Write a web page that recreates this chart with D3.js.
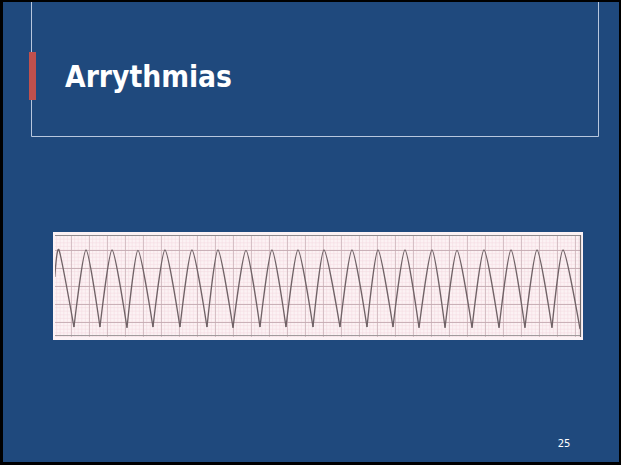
<!DOCTYPE html>
<html>
<head>
<meta charset="utf-8">
<script src="https://cdn.jsdelivr.net/npm/d3@7"></script>
<style>
  html, body { margin: 0; padding: 0; background: #000; }
  svg { display: block; }
</style>
</head>
<body>
<svg id="slide" width="621" height="465"></svg>
<script>
// slide texts
const titleText = "Arrythmias";
const pageNumber = "25";

// ECG strip, time in seconds (25 mm/s paper), amplitude in mV
const startPoint = [0.02, 0.25];
const peakTimes = [0.067, 0.367, 0.656, 0.944, 1.244, 1.544, 1.833, 2.144, 2.433, 2.722,
                   3.011, 3.322, 3.611, 3.911, 4.211, 4.489, 4.789, 5.089, 5.378, 5.667];
const peakMv = [1.0, 1.0, 1.0, 0.99, 1.0, 1.0, 1.0, 0.99, 1.0, 1.0,
                1.0, 1.0, 1.0, 1.0, 1.0, 0.99, 1.0, 1.0, 1.0, 1.0];
const troughTimes = [0.233, 0.522, 0.822, 1.111, 1.411, 1.711, 2.0, 2.3, 2.589, 2.889,
                     3.189, 3.489, 3.778, 4.067, 4.356, 4.656, 4.956, 5.244, 5.544, 5.856];
const troughMv = [-1.14, -1.14, -1.16, -1.14, -1.14, -1.14, -1.16, -1.14, -1.14, -1.14,
                  -1.14, -1.14, -1.14, -1.16, -1.16, -1.16, -1.16, -1.16, -1.16, -1.2];

const svg = d3.select("#slide");

// slide background with thin black frame
svg.append("rect").attr("x", 3).attr("y", 2).attr("width", 616).attr("height", 460)
  .attr("fill", "#1f497d");

// title frame lines
svg.append("path").attr("d", "M31.5,2 V136.5 H598.5 V2")
  .attr("stroke", "#b7c7de").attr("stroke-width", 1).attr("fill", "none");

// red accent bar
svg.append("rect").attr("x", 29).attr("y", 52).attr("width", 7).attr("height", 48)
  .attr("fill", "#c0504d");

svg.append("text")
  .attr("x", 65).attr("y", 87)
  .attr("font-family", "'DejaVu Sans', Verdana, sans-serif")
  .attr("font-weight", "bold")
  .attr("font-size", 30)
  .attr("textLength", 167)
  .attr("lengthAdjust", "spacingAndGlyphs")
  .attr("fill", "#ffffff")
  .text(titleText);

svg.append("text")
  .attr("x", 564).attr("y", 447)
  .attr("text-anchor", "middle")
  .attr("font-family", "'DejaVu Sans', Verdana, sans-serif")
  .attr("font-size", 10)
  .attr("fill", "#ffffff")
  .text(pageNumber);

// ECG strip
const x0 = 53, x1 = 583, y0 = 232, y1 = 340;
const x = d3.scaleLinear().domain([0, (x1 - x0) / 90]).range([x0, x1]);
const y = d3.scaleLinear().domain([-1.5, 1.5]).range([y1, y0]);

svg.append("rect").attr("x", x0).attr("y", y0).attr("width", x1 - x0).attr("height", y1 - y0)
  .attr("fill", "#fcf2f4");

svg.append("clipPath").attr("id", "stripClip")
  .append("rect").attr("x", x0 + 2).attr("y", y0 + 3).attr("width", x1 - x0 - 4).attr("height", y1 - y0 - 6);
const strip = svg.append("g").attr("clip-path", "url(#stripClip)");

const minorX = d3.range(0, x.domain()[1], 0.04);
const majorX = d3.range(0, x.domain()[1], 0.2);
const minorY = d3.range(-1.5, 1.51, 0.1);
const majorY = d3.range(-1.5, 1.51, 0.5);

strip.selectAll(".vminor").data(minorX).join("line")
  .attr("x1", d => x(d)).attr("x2", d => x(d)).attr("y1", y0).attr("y2", y1)
  .attr("stroke", "#f3d9df").attr("stroke-width", 0.5);
strip.selectAll(".hminor").data(minorY).join("line")
  .attr("y1", d => y(d)).attr("y2", d => y(d)).attr("x1", x0).attr("x2", x1)
  .attr("stroke", "#f3d9df").attr("stroke-width", 0.5);
strip.selectAll(".vmajor").data(majorX).join("line")
  .attr("x1", d => x(d) + 0.5).attr("x2", d => x(d) + 0.5).attr("y1", y0).attr("y2", y1)
  .attr("stroke", "#cdb5bb").attr("stroke-width", 0.8);
strip.selectAll(".hmajor").data(majorY).join("line")
  .attr("y1", d => y(d) + 0.5).attr("y2", d => y(d) + 0.5).attr("x1", x0).attr("x2", x1)
  .attr("stroke", "#c4aab1").attr("stroke-width", 0.9);

// strip edges
svg.append("line").attr("x1", x0 + 2).attr("x2", x1 - 2).attr("y1", y0 + 3.5).attr("y2", y0 + 3.5)
  .attr("stroke", "#8f8a8c").attr("stroke-width", 1.2);
svg.append("line").attr("x1", x0 + 2).attr("x2", x1 - 2).attr("y1", y1 - 4.5).attr("y2", y1 - 4.5)
  .attr("stroke", "#a09a9c").attr("stroke-width", 1);
svg.append("line").attr("x1", x1 - 2.5).attr("x2", x1 - 2.5).attr("y1", y0 + 3).attr("y2", y1 - 3)
  .attr("stroke", "#6f6a6c").attr("stroke-width", 1.2);

// trace: one rounded arc per beat, joined at sharp troughs
const peaks = peakTimes.map((t, i) => [t, peakMv[i]]);
const troughs = troughTimes.map((t, i) => [t, troughMv[i]]);
const beats = peaks.map((p, i) => [i === 0 ? startPoint : troughs[i - 1], p, troughs[i]]);

const line = d3.line().x(d => x(d[0])).y(d => y(d[1])).curve(d3.curveCardinal.tension(0.3));
strip.selectAll(".beat").data(beats).join("path")
  .attr("d", line)
  .attr("fill", "none")
  .attr("stroke", "#706266")
  .attr("stroke-width", 1.3)
  .attr("stroke-linejoin", "round");
</script>
</body>
</html>
